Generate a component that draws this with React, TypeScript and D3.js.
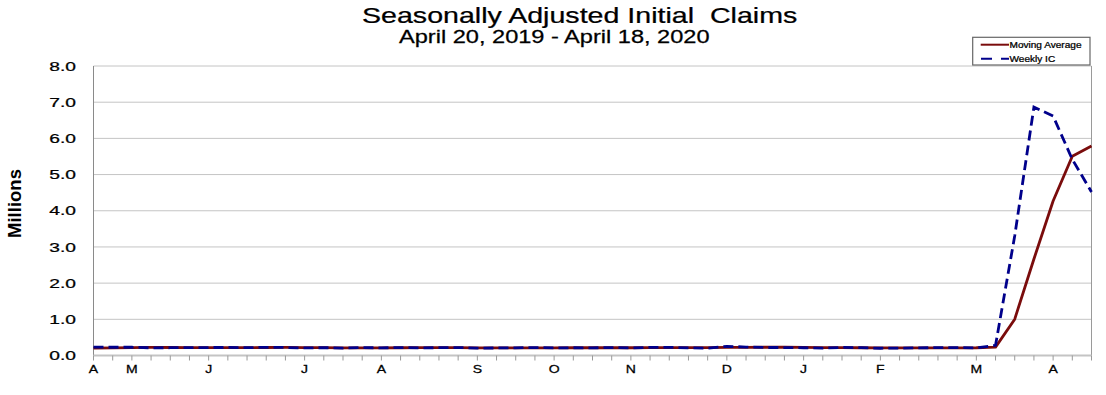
import React from 'react';
import * as d3 from 'd3';

// weekly initial claims, millions (weeks ending Apr 20 2019 .. Apr 18 2020)
const weeklyIC = [
  0.230, 0.228, 0.228, 0.212, 0.215, 0.218, 0.220, 0.222, 0.216, 0.227, 0.222,
  0.209, 0.216, 0.206, 0.217, 0.211, 0.220, 0.211, 0.216, 0.219, 0.204, 0.208,
  0.213, 0.219, 0.210, 0.214, 0.212, 0.218, 0.211, 0.225, 0.227, 0.213, 0.203,
  0.252, 0.234, 0.222, 0.220, 0.214, 0.204, 0.223, 0.216, 0.201, 0.205, 0.210,
  0.219, 0.217, 0.211, 0.282, 3.307, 6.867, 6.615, 5.420, 4.520,
];

const movingAvg = [
  0.206, 0.212, 0.220, 0.225, 0.221, 0.218, 0.216, 0.219, 0.219, 0.221, 0.222,
  0.219, 0.219, 0.213, 0.212, 0.213, 0.214, 0.215, 0.215, 0.217, 0.213, 0.212,
  0.211, 0.211, 0.213, 0.214, 0.214, 0.214, 0.214, 0.217, 0.220, 0.219, 0.217,
  0.224, 0.226, 0.228, 0.232, 0.223, 0.215, 0.215, 0.214, 0.211, 0.211, 0.208,
  0.209, 0.213, 0.214, 0.232, 1.004, 2.667, 4.268, 5.507, 5.787,
];

// month initials and the week index they sit on
const monthLabels = ['A', 'M', 'J', 'J', 'A', 'S', 'O', 'N', 'D', 'J', 'F', 'M', 'A'];
const monthWeeks = [0, 2, 6, 11, 15, 20, 24, 28, 33, 37, 41, 46, 50];

const yTicks = [0, 1, 2, 3, 4, 5, 6, 7, 8];

const font = '"Liberation Sans", Arial, sans-serif';

const W = 1106;
const H = 395;
const plot = { left: 93.5, right: 1091.5, top: 66, bottom: 355.5 };

const SText = ({ x, y, sx, size, anchor = 'start', weight = 'normal', children, dy }: any) => (
  <text
    transform={`translate(${x},${y}) scale(${sx},1)`}
    fontSize={size}
    fontFamily={font}
    fontWeight={weight}
    textAnchor={anchor}
    dy={dy}
    fill="#000"
    stroke="#000"
    strokeWidth={0.25}
    style={{ whiteSpace: 'pre' }}
  >
    {children}
  </text>
);

export default function App() {
  const x = d3.scaleLinear().domain([0, weeklyIC.length - 1]).range([plot.left, plot.right]);
  const y = d3.scaleLinear().domain([0, 8]).range([plot.bottom, plot.top]);

  const line = d3
    .line<number>()
    .x((_, i) => x(i))
    .y((d) => y(d));

  const weeks = d3.range(weeklyIC.length);

  return (
    <svg
      width={W}
      height={H}
      style={{ position: 'absolute', left: 0, top: 0, background: '#fff' }}
    >
      <rect width={W} height={H} fill="#fff" />

      {/* titles */}
      <SText x={362} y={23} sx={1.33} size={21.5}>
        Seasonally Adjusted Initial  Claims
      </SText>
      <SText x={399} y={43} sx={1.31} size={18}>
        April 20, 2019 - April 18, 2020
      </SText>

      {/* grid */}
      {yTicks.slice(1).map((t) => (
        <line key={t} x1={plot.left} x2={plot.right} y1={y(t)} y2={y(t)} stroke="#c4c4c4" strokeWidth={1} />
      ))}
      <line x1={plot.left} x2={plot.left} y1={plot.top} y2={plot.bottom} stroke="#8a8a8a" strokeWidth={1} />
      <line x1={plot.right} x2={plot.right} y1={plot.top} y2={plot.bottom} stroke="#9a9a9a" strokeWidth={1} />
      <line x1={plot.left} x2={plot.right} y1={plot.bottom} y2={plot.bottom} stroke="#c4c4c4" strokeWidth={2} />

      {/* x ticks */}
      {weeks.map((i) => (
        <line key={i} x1={x(i)} x2={x(i)} y1={plot.bottom} y2={plot.bottom + 5} stroke="#999" strokeWidth={1} />
      ))}

      {/* y labels */}
      {yTicks.map((t) => (
        <SText key={t} x={76} y={y(t)} dy="0.36em" sx={1.5} size={12.8} anchor="end">
          {t.toFixed(1)}
        </SText>
      ))}

      {/* x labels */}
      {monthLabels.map((m, k) => (
        <SText key={k} x={x(monthWeeks[k])} y={372.7} sx={1.3} size={10.8} anchor="middle">
          {m}
        </SText>
      ))}

      <text
        transform="translate(21,203.5) rotate(-90)"
        fontSize={18.5}
        fontWeight="bold"
        fontFamily={font}
        textAnchor="middle"
      >
        Millions
      </text>

      {/* series */}
      <path d={line(movingAvg) || ''} fill="none" stroke="#7a0c0c" strokeWidth={2.8} strokeLinejoin="round" />
      <path d={line(weeklyIC) || ''} fill="none" stroke="#00008b" strokeWidth={2.8} strokeDasharray="10,5" />

      {/* legend */}
      <rect x={972.7} y={37.3} width={117.3} height={27.7} fill="#fff" stroke="#666" strokeWidth={1.2} />
      <line x1={980.7} x2={1009} y1={44.7} y2={44.7} stroke="#7a0c0c" strokeWidth={2} />
      <line x1={981} x2={1009} y1={58.7} y2={58.7} stroke="#00008b" strokeWidth={2} strokeDasharray="11,9" />
      <SText x={1009.5} y={47.7} sx={1.2} size={8.4}>
        Moving Average
      </SText>
      <SText x={1009.5} y={61.7} sx={1.2} size={8.4}>
        Weekly IC
      </SText>
    </svg>
  );
}
